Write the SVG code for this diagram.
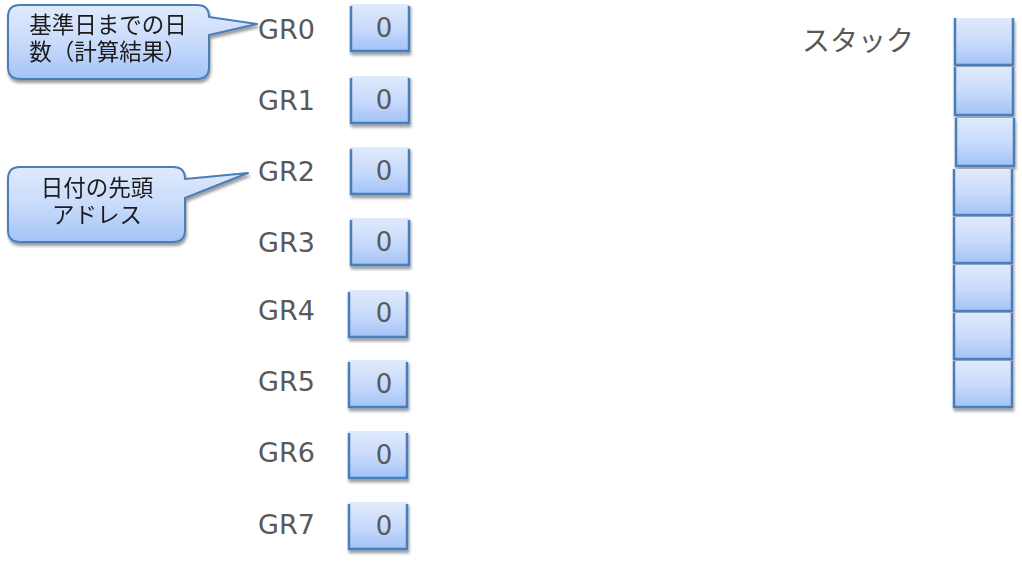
<svg xmlns="http://www.w3.org/2000/svg" width="1022" height="563" viewBox="0 0 1022 563">
<defs>
<linearGradient id="g" x1="0" y1="0" x2="0" y2="1">
<stop offset="0" stop-color="#e0eafc"/>
<stop offset="0.5" stop-color="#c9dbfb"/>
<stop offset="1" stop-color="#a3c3f7"/>
</linearGradient>
<filter id="sh" x="-20%" y="-20%" width="140%" height="150%">
<feGaussianBlur in="SourceAlpha" stdDeviation="1.5"/>
<feOffset dx="1" dy="2.5" result="b"/>
<feComponentTransfer><feFuncA type="linear" slope="0.4"/></feComponentTransfer>
<feMerge><feMergeNode/><feMergeNode in="SourceGraphic"/></feMerge>
</filter>
</defs>
<style>
.lbl{font-family:"DejaVu Sans","Noto Sans CJK JP",sans-serif;font-size:27px;fill:#595959}
.val{font-family:"DejaVu Sans",sans-serif;font-size:26px;fill:#595959;text-anchor:middle}
.jp{font-family:"Noto Sans CJK JP",sans-serif;font-size:28px;fill:#595959}
.ct{font-family:"DejaVu Sans","Noto Sans CJK JP",sans-serif;font-size:22.5px;fill:#1a1a1a;text-anchor:middle}
.box{fill:url(#g)}
.edge{fill:none;stroke:#4a7ebb;stroke-width:2.5}
.call{fill:url(#g);stroke:#4a7ebb;stroke-width:2;stroke-linejoin:round}
</style>

<g id="callout-gr0" filter="url(#sh)">
<path class="call" d="M20,5 H197 Q209,5 209,17 L257,24 L209,35 V67 Q209,79 197,79 H20 Q8,79 8,67 V17 Q8,5 20,5 Z"/>
<text class="ct"><tspan x="108" y="33">基準日までの日</tspan><tspan x="108" y="60">数（計算結果）</tspan></text>
</g>
<g id="callout-gr2" filter="url(#sh)">
<path class="call" d="M20,167 H173 Q185,167 185,179 L248,173 L185,198 V230 Q185,242 173,242 H20 Q8,242 8,230 V179 Q8,167 20,167 Z"/>
<text class="ct"><tspan x="97" y="196">日付の先頭</tspan><tspan x="97" y="223">アドレス</tspan></text>
</g>

<g id="reg-gr0"><text class="lbl" x="258" y="39">GR0</text><g filter="url(#sh)"><rect class="box" x="350" y="4" width="60" height="47"/><path class="edge" d="M351,6 V51 H409 V6"/></g><text class="val" x="384" y="37">0</text></g>
<g id="reg-gr1"><text class="lbl" x="258" y="110">GR1</text><g filter="url(#sh)"><rect class="box" x="350" y="76" width="60" height="47"/><path class="edge" d="M351,78 V123 H409 V78"/></g><text class="val" x="384" y="109">0</text></g>
<g id="reg-gr2"><text class="lbl" x="258" y="181">GR2</text><g filter="url(#sh)"><rect class="box" x="350" y="147" width="60" height="47"/><path class="edge" d="M351,149 V194 H409 V149"/></g><text class="val" x="384" y="180">0</text></g>
<g id="reg-gr3"><text class="lbl" x="258" y="252">GR3</text><g filter="url(#sh)"><rect class="box" x="350" y="218" width="60" height="47"/><path class="edge" d="M351,220 V265 H409 V220"/></g><text class="val" x="384" y="251">0</text></g>
<g id="reg-gr4"><text class="lbl" x="258" y="320">GR4</text><g filter="url(#sh)"><rect class="box" x="348" y="290" width="60" height="47"/><path class="edge" d="M349,292 V337 H407 V292"/></g><text class="val" x="384" y="322">0</text></g>
<g id="reg-gr5"><text class="lbl" x="258" y="391">GR5</text><g filter="url(#sh)"><rect class="box" x="348" y="360" width="60" height="47"/><path class="edge" d="M349,362 V407 H407 V362"/></g><text class="val" x="384" y="393">0</text></g>
<g id="reg-gr6"><text class="lbl" x="258" y="462">GR6</text><g filter="url(#sh)"><rect class="box" x="348" y="431" width="60" height="47"/><path class="edge" d="M349,433 V478 H407 V433"/></g><text class="val" x="384" y="464">0</text></g>
<g id="reg-gr7"><text class="lbl" x="258" y="534">GR7</text><g filter="url(#sh)"><rect class="box" x="348" y="502" width="60" height="47"/><path class="edge" d="M349,504 V549 H407 V504"/></g><text class="val" x="384" y="535">0</text></g>

<g id="stack">
<text class="jp" x="802" y="51">スタック</text>
<g filter="url(#sh)">
<rect class="box" x="954" y="18" width="60" height="47"/><path class="edge" d="M955,18 V65 H1013 V18"/>
<rect class="box" x="954" y="67" width="60" height="48"/><path class="edge" d="M955,67 V115 H1013 V67"/>
<rect class="box" x="955" y="118" width="60" height="48"/><path class="edge" d="M956,118 V166 H1014 V118"/>
<rect class="box" x="953" y="169" width="60" height="46"/><path class="edge" d="M954,169 V215 H1012 V169"/>
<rect class="box" x="953" y="217" width="60" height="46"/><path class="edge" d="M954,217 V263 H1012 V217"/>
<rect class="box" x="953" y="265" width="60" height="46"/><path class="edge" d="M954,265 V311 H1012 V265"/>
<rect class="box" x="953" y="313" width="60" height="46"/><path class="edge" d="M954,313 V359 H1012 V313"/>
<rect class="box" x="953" y="361" width="60" height="46"/><path class="edge" d="M954,361 V407 H1012 V361"/>
</g>
</g>
</svg>
